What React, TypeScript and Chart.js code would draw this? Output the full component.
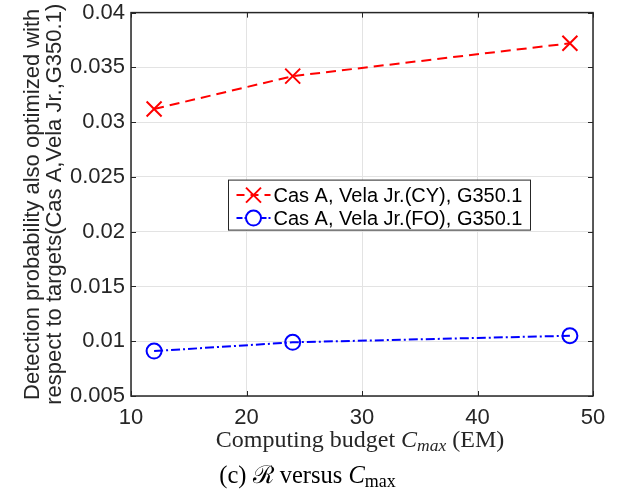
import { useEffect, useRef } from 'react';
import { Chart, registerables } from 'chart.js';

Chart.register(...registerables);

const budgets = [12, 24, 48];
const cyValues = [0.0312, 0.0342, 0.0372];
const foValues = [0.0091, 0.0099, 0.0105];
const xTicks = [10, 20, 30, 40, 50];
const yTicks = [0.005, 0.01, 0.015, 0.02, 0.025, 0.03, 0.035, 0.04];
const seriesLabels = ['Cas A, Vela Jr.(CY), G350.1', 'Cas A, Vela Jr.(FO), G350.1'];
const yTitleLines = [
  'Detection probability also optimized with',
  'respect to targets(Cas A,Vela Jr.,G350.1)',
];

const SANS = '"Liberation Sans", Arial, Helvetica, sans-serif';
const SERIF = '"Liberation Serif", "DejaVu Serif", serif';
const AXIS = '#262626';
const RED = '#ff0000';
const BLUE = '#0000ff';
const RED_DASH = [10, 6];
const BLUE_DASH = [9, 3, 2, 3];

type Run = { text: string; font: string; dy?: number };

function drawRuns(ctx: CanvasRenderingContext2D, runs: Run[], cx: number, baseline: number, color: string) {
  let total = 0;
  const widths = runs.map((r) => {
    ctx.font = r.font;
    const w = ctx.measureText(r.text).width;
    total += w;
    return w;
  });
  let x = cx - total / 2;
  ctx.fillStyle = color;
  ctx.textAlign = 'left';
  ctx.textBaseline = 'alphabetic';
  runs.forEach((r, i) => {
    ctx.font = r.font;
    ctx.fillText(r.text, x, baseline + (r.dy || 0));
    x += widths[i];
  });
}

const overlayPlugin = {
  id: 'overlay',
  afterDraw(chart: any) {
    const ctx: CanvasRenderingContext2D = chart.ctx;
    const a = chart.chartArea;
    const xs = chart.scales.x;
    const ys = chart.scales.y;
    ctx.save();

    // axes box
    ctx.strokeStyle = AXIS;
    ctx.lineWidth = 1.5;
    ctx.setLineDash([]);
    ctx.strokeRect(a.left, a.top, a.right - a.left, a.bottom - a.top);

    // inward ticks
    const tl = 5;
    ctx.lineWidth = 1;
    ctx.beginPath();
    xTicks.forEach((v) => {
      const px = Math.round(xs.getPixelForValue(v)) + 0.5;
      ctx.moveTo(px, a.bottom);
      ctx.lineTo(px, a.bottom - tl);
      ctx.moveTo(px, a.top);
      ctx.lineTo(px, a.top + tl);
    });
    yTicks.forEach((v) => {
      const py = Math.round(ys.getPixelForValue(v)) + 0.5;
      ctx.moveTo(a.left, py);
      ctx.lineTo(a.left + tl, py);
      ctx.moveTo(a.right, py);
      ctx.lineTo(a.right - tl, py);
    });
    ctx.stroke();

    // y title (two lines, rotated)
    ctx.save();
    const cy = (a.top + a.bottom) / 2;
    ctx.fillStyle = AXIS;
    ctx.font = `22px ${SANS}`;
    ctx.textAlign = 'center';
    ctx.textBaseline = 'alphabetic';
    const baselines = [39, 61];
    yTitleLines.forEach((line, i) => {
      ctx.save();
      ctx.translate(baselines[i], cy);
      ctx.rotate(-Math.PI / 2);
      ctx.fillText(line, 0, 0);
      ctx.restore();
    });
    ctx.restore();

    // x title
    const cx = (a.left + a.right) / 2;
    drawRuns(
      ctx,
      [
        { text: 'Computing budget ', font: `24px ${SERIF}` },
        { text: 'C', font: `italic 24px ${SERIF}` },
        { text: 'max', font: `italic 17.5px ${SERIF}`, dy: 4 },
        { text: ' (EM)', font: `24px ${SERIF}` },
      ],
      cx - 2,
      447,
      AXIS
    );

    // caption
    drawRuns(
      ctx,
      [
        { text: '(c) ', font: `24.5px ${SERIF}` },
        { text: 'ℛ', font: `24.5px ${SERIF}` },
        { text: ' versus ', font: `24.5px ${SERIF}` },
        { text: 'C', font: `italic 24.5px ${SERIF}` },
        { text: 'max', font: `18px ${SERIF}`, dy: 4 },
      ],
      chart.width / 2 - 7,
      483,
      '#000'
    );

    // legend
    const lx = a.left + 97.5;
    const ly = a.top + 167.5;
    const lw = 302;
    const lh = 50;
    ctx.fillStyle = '#fff';
    ctx.fillRect(lx, ly, lw, lh);
    ctx.strokeStyle = AXIS;
    ctx.lineWidth = 1;
    ctx.strokeRect(lx, ly, lw, lh);
    const rows = [ly + 15, ly + 38];
    const colors = [RED, BLUE];
    rows.forEach((ry, i) => {
      ctx.strokeStyle = colors[i];
      ctx.lineWidth = 2;
      ctx.setLineDash(i === 0 ? [8, 6] : [6, 2, 2, 2]);
      ctx.beginPath();
      ctx.moveTo(lx + 8, ry);
      ctx.lineTo(lx + 42, ry);
      ctx.stroke();
      ctx.setLineDash([]);
      const mx = lx + 25;
      ctx.beginPath();
      if (i === 0) {
        ctx.moveTo(mx - 7.5, ry - 7.5);
        ctx.lineTo(mx + 7.5, ry + 7.5);
        ctx.moveTo(mx + 7.5, ry - 7.5);
        ctx.lineTo(mx - 7.5, ry + 7.5);
      } else {
        ctx.fillStyle = '#fff';
        ctx.arc(mx, ry, 7.5, 0, Math.PI * 2);
        ctx.fill();
      }
      ctx.stroke();
      ctx.fillStyle = '#000';
      ctx.font = `20px ${SANS}`;
      ctx.textAlign = 'left';
      ctx.textBaseline = 'middle';
      ctx.fillText(seriesLabels[i], lx + 45, ry + 1);
    });

    ctx.restore();
  },
};

export default function App() {
  const ref = useRef<HTMLCanvasElement | null>(null);

  useEffect(() => {
    if (!ref.current) return;
    const chart = new Chart(ref.current, {
      type: 'line',
      data: {
        datasets: [
          {
            label: seriesLabels[0],
            data: budgets.map((x, i) => ({ x, y: cyValues[i] })),
            borderColor: RED,
            backgroundColor: 'transparent',
            borderWidth: 2,
            borderDash: RED_DASH,
            pointStyle: 'crossRot',
            pointRadius: 10.6,
            pointBorderWidth: 2,
            pointBorderColor: RED,
            fill: false,
            tension: 0,
          },
          {
            label: seriesLabels[1],
            data: budgets.map((x, i) => ({ x, y: foValues[i] })),
            borderColor: BLUE,
            backgroundColor: 'transparent',
            borderWidth: 2,
            borderDash: BLUE_DASH,
            pointStyle: 'circle',
            pointRadius: 7.5,
            pointBorderWidth: 2,
            pointBorderColor: BLUE,
            pointBackgroundColor: 'transparent',
            fill: false,
            tension: 0,
          },
        ],
      },
      options: {
        animation: false,
        responsive: false,
        maintainAspectRatio: false,
        layout: { padding: { top: 12, right: 36, left: 0, bottom: 0 } },
        plugins: {
          legend: { display: false },
          tooltip: { enabled: false },
        },
        scales: {
          x: {
            type: 'linear',
            min: 10,
            max: 50,
            afterBuildTicks: (s: any) => {
              s.ticks = xTicks.map((v) => ({ value: v }));
            },
            afterFit: (s: any) => {
              s.height = 95;
              s.paddingLeft = 0;
              s.paddingRight = 0;
              s.paddingTop = 0;
              s.paddingBottom = 0;
            },
            grid: { color: '#e3e3e3', lineWidth: 1, drawTicks: false },
            border: { display: false },
            ticks: {
              padding: 9,
              color: AXIS,
              maxRotation: 0,
              autoSkip: false,
              font: { family: SANS, size: 22 },
            },
          },
          y: {
            type: 'linear',
            min: 0.005,
            max: 0.04,
            afterBuildTicks: (s: any) => {
              s.ticks = yTicks.map((v) => ({ value: v }));
            },
            afterFit: (s: any) => {
              s.width = 131;
              s.paddingLeft = 0;
              s.paddingRight = 0;
              s.paddingTop = 0;
              s.paddingBottom = 0;
            },
            grid: { color: '#e3e3e3', lineWidth: 1, drawTicks: false },
            border: { display: false },
            ticks: {
              padding: 6,
              color: AXIS,
              autoSkip: false,
              font: { family: SANS, size: 22 },
              callback: (v: any) => String(Number(Number(v).toFixed(3))),
            },
          },
        },
      },
      plugins: [overlayPlugin],
    });
    return () => chart.destroy();
  }, []);

  return (
    <div style={{ position: 'absolute', left: 0, top: 0, width: 629, height: 491, background: '#fff' }}>
      <canvas ref={ref} width={629} height={491} style={{ width: 629, height: 491, display: 'block' }} />
    </div>
  );
}
